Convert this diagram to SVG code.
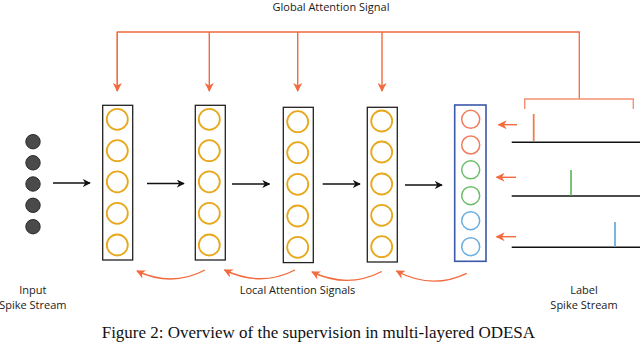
<svg xmlns="http://www.w3.org/2000/svg" width="640" height="342" viewBox="0 0 640 342">
<defs>
<style>
.lbl{font-family:"Open Sans","Noto Sans","Liberation Sans",sans-serif;font-size:11px;fill:#1a1a1a;text-anchor:middle}
.cap{font-family:"Liberation Serif","Times New Roman",serif;font-size:17px;fill:#111}
.layer{fill:#fff;stroke:#222;stroke-width:1.3}
.out{fill:#fff;stroke:#3a58a8;stroke-width:1.6}
.n{fill:none;stroke:#e8a81c;stroke-width:1.8}
.in{fill:#4a4a4a;stroke:#2a2a2a;stroke-width:1}
.fw{stroke:#111;stroke-width:1.3;fill:none;marker-end:url(#ab)}
.ga{stroke:#f26a3d;stroke-width:1.3;fill:none}
.ra{stroke:#f26a3d;stroke-width:1.4;fill:none;marker-end:url(#ar)}
.br{stroke:#f49070;stroke-width:1.4;fill:none}
.base{stroke:#111;stroke-width:1.4}
</style>
<marker id="ab" viewBox="0 0 10 10" refX="9" refY="5" markerWidth="8" markerHeight="8" markerUnits="userSpaceOnUse" orient="auto"><path d="M0,0 L10,5 L0,10 L3,5 z" fill="#111"/></marker>
<marker id="ar" viewBox="0 0 10 10" refX="9" refY="5" markerWidth="9" markerHeight="9" markerUnits="userSpaceOnUse" orient="auto"><path d="M0,0 L10,5 L0,10 L3,5 z" fill="#f26a3d"/></marker>
</defs>

<text class="lbl" x="331" y="11">Global Attention Signal</text>

<g id="connectors">
<path class="ga" d="M117.3,91 V32 H579.3 V99"/>
<path class="ra" d="M117.3,32 V91"/>
<path class="ra" d="M209.3,32 V91"/>
<path class="ra" d="M297.7,32 V91"/>
<path class="ra" d="M382,32 V91"/>
<path class="br" d="M524.7,109 V99 H633.3 V109"/>
<path class="fw" d="M53,183 H90"/>
<path class="fw" d="M147,183.5 H184"/>
<path class="fw" d="M232,184 H269.5"/>
<path class="fw" d="M322.7,184 H360"/>
<path class="fw" d="M405,185 H442"/>
<path class="ra" d="M517,124.7 H498.5"/>
<path class="ra" d="M516,177.3 H496.5"/>
<path class="ra" d="M516,236.7 H496.5"/>
<path class="ra" d="M205,270 Q172,287.5 137,271"/>
<path class="ra" d="M295,270 Q261,287.5 224.5,270"/>
<path class="ra" d="M381.7,271.5 Q348,289 312,272"/>
<path class="ra" d="M466.7,273.3 Q432,290 396.5,271"/>
</g>

<g id="input">
<circle class="in" cx="33" cy="141.7" r="7.2"/>
<circle class="in" cx="33" cy="162.8" r="7.2"/>
<circle class="in" cx="33" cy="184" r="7.2"/>
<circle class="in" cx="33" cy="205.3" r="7.2"/>
<circle class="in" cx="33" cy="226.7" r="7.2"/>
</g>

<g id="layer1">
<rect class="layer" x="102.7" y="105.3" width="30" height="154.7"/>
<circle class="n" cx="117.3" cy="119.3" r="10.5"/>
<circle class="n" cx="117.3" cy="150.7" r="10.5"/>
<circle class="n" cx="117.3" cy="181.8" r="10.5"/>
<circle class="n" cx="117.3" cy="213.3" r="10.5"/>
<circle class="n" cx="117.3" cy="245" r="10.5"/>
</g>

<g id="layer2">
<rect class="layer" x="195.3" y="105.3" width="30" height="154.7"/>
<circle class="n" cx="209.3" cy="119.3" r="10.5"/>
<circle class="n" cx="209.3" cy="150.7" r="10.5"/>
<circle class="n" cx="209.3" cy="181.8" r="10.5"/>
<circle class="n" cx="209.3" cy="213.3" r="10.5"/>
<circle class="n" cx="209.3" cy="245" r="10.5"/>
</g>

<g id="layer3">
<rect class="layer" x="283.3" y="107.3" width="30" height="155.3"/>
<circle class="n" cx="297.7" cy="121.7" r="10.5"/>
<circle class="n" cx="297.7" cy="152.7" r="10.5"/>
<circle class="n" cx="297.7" cy="184.3" r="10.5"/>
<circle class="n" cx="297.7" cy="216" r="10.5"/>
<circle class="n" cx="297.7" cy="247.3" r="10.5"/>
</g>

<g id="layer4">
<rect class="layer" x="367.3" y="107.3" width="30" height="154.7"/>
<circle class="n" cx="381.7" cy="121" r="10.5"/>
<circle class="n" cx="381.7" cy="152" r="10.5"/>
<circle class="n" cx="381.7" cy="184" r="10.5"/>
<circle class="n" cx="381.7" cy="215.3" r="10.5"/>
<circle class="n" cx="381.7" cy="246.7" r="10.5"/>
</g>

<g id="output">
<rect class="out" x="454.7" y="105" width="31.3" height="156.3"/>
<circle cx="470.7" cy="119.3" r="9" fill="none" stroke="#f07d5c" stroke-width="1.5"/>
<circle cx="470.7" cy="145" r="9" fill="none" stroke="#f07d5c" stroke-width="1.5"/>
<circle cx="470.7" cy="169.8" r="9" fill="none" stroke="#6dbd6a" stroke-width="1.5"/>
<circle cx="470.7" cy="195.7" r="9" fill="none" stroke="#6dbd6a" stroke-width="1.5"/>
<circle cx="470.7" cy="220.7" r="9" fill="none" stroke="#6aaedf" stroke-width="1.5"/>
<circle cx="470.7" cy="246.7" r="9" fill="none" stroke="#6aaedf" stroke-width="1.5"/>
</g>

<g id="labels">
<line class="base" x1="511.7" y1="142.3" x2="640" y2="142.3"/>
<line x1="533.7" y1="114" x2="533.7" y2="141" stroke="#f07d50" stroke-width="1.8"/>
<line class="base" x1="511.7" y1="196" x2="640" y2="196"/>
<line x1="571" y1="170" x2="571" y2="195.5" stroke="#6dbd6a" stroke-width="1.8"/>
<line class="base" x1="511.7" y1="247.3" x2="640" y2="247.3"/>
<line x1="615" y1="222" x2="615" y2="246.8" stroke="#6aaedf" stroke-width="1.8"/>
</g>

<text class="lbl" x="297.5" y="294.3">Local Attention Signals</text>
<text class="lbl" x="32.8" y="294.3">Input</text>
<text class="lbl" x="32.8" y="308.7">Spike Stream</text>
<text class="lbl" x="584" y="294.3">Label</text>
<text class="lbl" x="584" y="308.7">Spike Stream</text>
<text class="cap" x="101.7" y="337.7">Figure 2: Overview of the supervision in multi-layered ODESA</text>
</svg>
